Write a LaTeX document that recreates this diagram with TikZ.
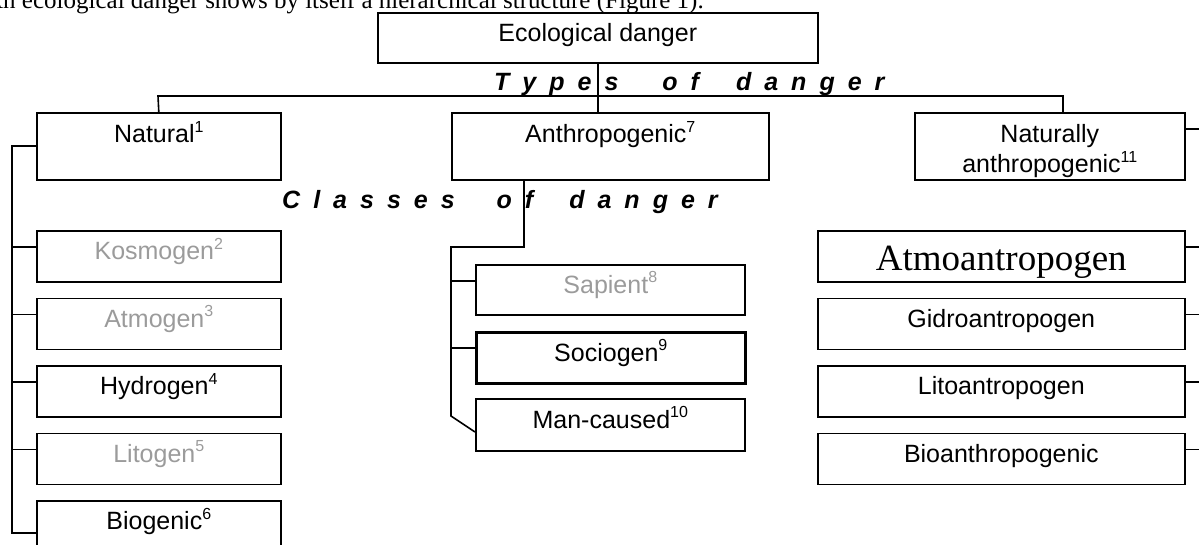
\documentclass[tikz,border=0pt]{standalone}
\usepackage{fontspec}
\setmainfont{Liberation Serif}
\setsansfont{Liberation Sans}
\usetikzlibrary{calc}
\definecolor{txtgray}{RGB}{155,155,155}
\newcommand\sups[1]{\raisebox{10.5pt}{\fontsize{16}{16}\selectfont #1}}
\begin{document}
\begin{tikzpicture}[x=1pt,y=-1pt,
  box/.style={draw, line width=1.6pt, rectangle, inner sep=0pt, anchor=north west,
    font=\sffamily\fontsize{25}{28}\selectfont, text=black},
  lvlone/.style={box, minimum height=67pt, text height=18pt, text depth=25pt},
  lvltwo/.style={box, minimum height=51pt, text height=18pt, text depth=11pt},
  wire/.style={line width=1.6pt},
  spaced/.style={anchor=base west, inner sep=0pt, font=\sffamily\bfseries\itshape\fontsize{25}{28}\selectfont}
]
\useasboundingbox (0,0) rectangle (1199,544);
\clip (0,0) rectangle (1199,544);

% intro sentence (cut at the top)
\node[anchor=base west, inner sep=0pt, font=\rmfamily\fontsize{25}{30}\selectfont] (intro) at (-15,8)
  {An ecological danger shows by itself a hierarchical structure (Figure 1).};

% root
\node[box, minimum width=440pt, minimum height=50pt, text height=18pt, text depth=10pt] (eco) at (377,12) {Ecological danger};

% level one
\node[lvlone, minimum width=244pt] (nat) at (36,112) {Natural\sups{1}};
\node[lvlone, minimum width=317pt] (anth) at (451,112) {Anthropogenic\sups{7}};
\node[lvlone, minimum width=270pt] (natanth) at (914,112)
  {\begin{tabular}[t]{@{}c@{}}Naturally\\anthropogenic\sups{11}\end{tabular}};

% labels
\node[spaced] (types) at (494,90) {\spaceskip=13pt T y p e s\hspace{44pt}o f\hspace{37pt}d a n g e r};
\node[spaced] (classes) at (282,208) {\spaceskip=13pt C l a s s e s\hspace{42pt}o f\hspace{36pt}d a n g e r};

% natural classes
\node[lvltwo, minimum width=244pt, text=txtgray] (kos) at (36,230) {Kosmogen\sups{2}};
\node[lvltwo, minimum width=244pt, text=txtgray] (atm) at (36,297.5) {Atmogen\sups{3}};
\node[lvltwo, minimum width=244pt] (hyd) at (36,365) {Hydrogen\sups{4}};
\node[lvltwo, minimum width=244pt, text=txtgray] (lit) at (36,432.5) {Litogen\sups{5}};
\node[lvltwo, minimum width=244pt] (bio) at (36,500) {Biogenic\sups{6}};

% anthropogenic classes
\node[lvltwo, minimum width=269pt, minimum height=50pt, text=txtgray] (sap) at (475,264) {Sapient\sups{8}};
\node[lvltwo, minimum width=269pt, line width=2.6pt] (soc) at (475,331) {Sociogen\sups{9}};
\node[lvltwo, minimum width=269pt, minimum height=52pt] (man) at (475,398) {Man-caused\sups{10}};

% naturally anthropogenic classes
\node[box, minimum width=367pt, minimum height=51pt, text height=32pt, text depth=3pt,
  font=\rmfamily\fontsize{37}{40}\selectfont] (atmo) at (817,230) {Atmoantropogen};
\node[lvltwo, minimum width=367pt] (gid) at (817,297.5) {Gidroantropogen};
\node[lvltwo, minimum width=367pt] (lito) at (817,365) {Litoantropogen};
\node[lvltwo, minimum width=367pt] (bioa) at (817,432.5) {Bioanthropogenic};

% top bus
\coordinate (tbL) at (158,96);
\coordinate (tbR) at (1063,96);
\draw[wire] (eco.south) -- (eco.south |- anth.north);
\draw[wire] (nat.north) -- (tbL) -- (tbR) -- (tbR |- natanth.north);

% left bus
\coordinate (lbtop) at (12,146);
\coordinate (lbbot) at (12,533);
\draw[wire] (lbtop -| nat.west) -- (lbtop) -- (lbbot) -- (lbbot -| bio.west);
\foreach \n in {kos,atm,hyd,lit}{
  \draw[wire] ($(\n.north west)+(0,17)$) coordinate (s\n) -- (s\n -| lbtop);
}

% middle bus
\coordinate (m1) at (524,247);
\coordinate (m2) at (451,247);
\coordinate (m3) at (451,416);
\draw[wire] (m1 |- anth.south) -- (m1) -- (m2) -- (m3) -- ($(man.north west)+(0,34)$);
\draw[wire] ($(sap.north west)+(0,17)$) coordinate (ssap) -- (ssap -| m2);
\draw[wire] ($(soc.north west)+(0,17)$) coordinate (ssoc) -- (ssoc -| m2);

% right stubs
\coordinate (rb) at (1215,0);
\foreach \n in {natanth,atmo,gid,lito,bioa}{
  \draw[wire] ($(\n.north east)+(0,17)$) coordinate (r\n) -- (r\n -| rb);
}
\end{tikzpicture}
\end{document}
